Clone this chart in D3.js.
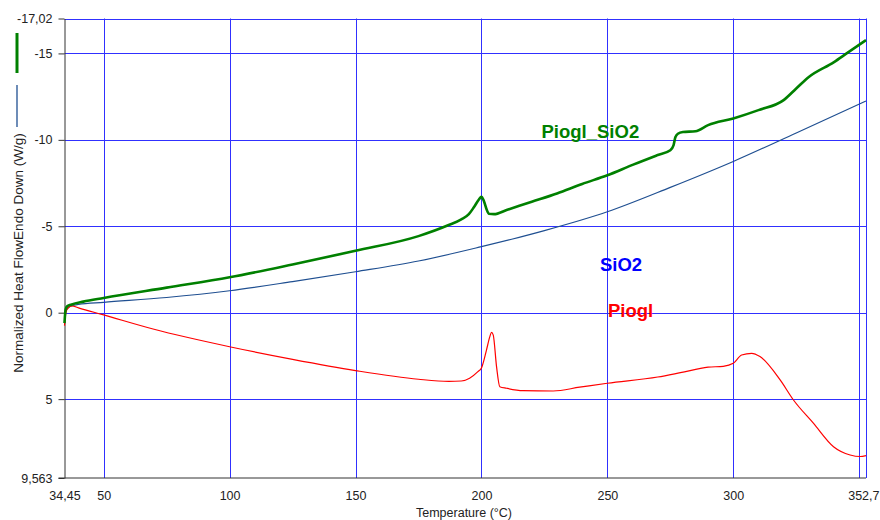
<!DOCTYPE html>
<html>
<head>
<meta charset="utf-8">
<script src="https://cdn.jsdelivr.net/npm/d3@7"></script>
<style>
  html, body { margin: 0; padding: 0; background: #fff; }
  svg { display: block; font-family: Arial, "Liberation Sans", sans-serif; }
</style>
</head>
<body>
<svg id="chart" width="880" height="520"></svg>
<script>
// DSC curves: temperature (°C) vs normalized heat flow (W/g), endo down
const tempPioglSiO2 = [34.45, 34.9, 35.6, 37.3, 41.9, 50, 75, 100, 125, 150, 175, 187, 192, 195, 197, 199, 200, 201, 202, 203, 205, 210, 220, 230, 240, 250, 260, 270, 275, 276.3, 277, 278, 280, 285, 290, 300, 310, 320, 325, 330, 340, 345, 352.7];
const heatPioglSiO2 = [0.6, -0.2, -0.38, -0.48, -0.64, -0.85, -1.45, -2.05, -2.79, -3.58, -4.43, -5.07, -5.4, -5.7, -6.1, -6.55, -6.71, -6.45, -6.0, -5.72, -5.7, -5.94, -6.42, -6.9, -7.45, -7.95, -8.55, -9.12, -9.4, -9.7, -10.15, -10.35, -10.45, -10.5, -10.85, -11.24, -11.72, -12.3, -12.97, -13.64, -14.5, -15.0, -15.77];

const tempSiO2 = [34.45, 35, 36.5, 40, 50, 75, 100, 125, 150, 175, 200, 212, 225, 250, 275, 300, 325, 352.7];
const heatSiO2 = [0.45, -0.1, -0.35, -0.48, -0.6, -0.88, -1.27, -1.8, -2.37, -2.99, -3.82, -4.25, -4.75, -5.84, -7.25, -8.75, -10.4, -12.25];

const tempPiogl = [34.45, 34.8, 35.5, 37.3, 40, 50, 70, 100, 125, 150, 175, 187, 192, 195.3, 198.6, 200, 202, 203.3, 204, 204.7, 206, 207.3, 210, 216.5, 228.5, 239, 250, 270, 279, 290, 296, 300, 303.3, 307.3, 310.6, 318.6, 323.9, 331.8, 339.8, 346.4, 350.4, 352.7];
const heatPiogl = [0.75, 0.2, -0.2, -0.4, -0.28, 0.13, 0.96, 1.97, 2.7, 3.35, 3.85, 3.97, 3.95, 3.79, 3.41, 3.2, 2.16, 1.4, 1.13, 1.3, 3.12, 4.28, 4.37, 4.51, 4.53, 4.31, 4.08, 3.72, 3.47, 3.15, 3.1, 2.93, 2.45, 2.35, 2.54, 3.89, 5.05, 6.39, 7.75, 8.23, 8.32, 8.27];

const xTicks = [34.45, 50, 100, 150, 200, 250, 300, 352.7];
const xGrid = [50, 100, 150, 200, 250, 300, 350, 352.7];
const yTicks = [-17.02, -15, -10, -5, 0, 5, 9.563];
const yGrid = [-17.02, -15, -10, -5, 0, 5];

const seriesNames = ["Piogl_SiO2", "SiO2", "Piogl"];
const seriesColors = ["#008000", "#1f4f91", "#ff0000"];

const svg = d3.select("#chart");
const plotLeft = 64.5, plotRight = 866, plotTop = 18.5, plotBottom = 478;

const x = d3.scaleLinear().domain([34.45, 352.7]).range([plotLeft, plotRight]);
const y = d3.scaleLinear().domain([-17.02, 9.563]).range([plotTop, plotBottom]);

const fmt = v => String(v).replace(".", ",");

// grid
const grid = svg.append("g").attr("stroke", "#3030ff").attr("stroke-width", 1);
grid.selectAll("line.v").data(xGrid).join("line").attr("class", "v")
  .attr("x1", d => Math.round(x(d)) + 0.5).attr("x2", d => Math.round(x(d)) + 0.5)
  .attr("y1", plotTop).attr("y2", plotBottom);
grid.selectAll("line.h").data(yGrid).join("line").attr("class", "h")
  .attr("y1", d => Math.round(y(d)) + 0.5).attr("y2", d => Math.round(y(d)) + 0.5)
  .attr("x1", plotLeft).attr("x2", plotRight);

// axes
const yAxis = svg.append("g").attr("transform", `translate(${plotLeft},0)`)
  .call(d3.axisLeft(y).tickValues(yTicks).tickFormat(fmt).tickSize(6).tickPadding(6).tickSizeOuter(0));
const xAxis = svg.append("g").attr("transform", `translate(0,${plotBottom})`)
  .call(d3.axisBottom(x).tickValues(xTicks).tickFormat(fmt).tickSize(0).tickPadding(13).tickSizeOuter(0));
[yAxis, xAxis].forEach(a => {
  a.select(".domain").attr("stroke", "#333");
  a.selectAll(".tick line").attr("stroke", "#333");
  a.selectAll("text").attr("fill", "#222").style("font-size", "12.5px")
    .style("font-family", "Arial, 'Liberation Sans', sans-serif");
});
xAxis.select(".domain").attr("d", `M${plotLeft - 6},0H${plotRight}`);
// last temperature label sits against the right edge
xAxis.selectAll(".tick text").filter(d => d === 352.7)
  .attr("text-anchor", "end").attr("x", 879 - x(352.7));

// axis titles
svg.append("text").attr("x", 464).attr("y", 516.5).attr("text-anchor", "middle")
  .attr("fill", "#222").style("font-size", "12.5px").text("Temperature (°C)");
svg.append("text").attr("transform", "translate(22.5,253) rotate(-90)")
  .attr("text-anchor", "middle").attr("fill", "#222").style("font-size", "13.5px")
  .text("Normalized Heat FlowEndo Down (W/g)");

// series key strokes beside the y title
svg.append("line").attr("x1", 17).attr("x2", 17).attr("y1", 33).attr("y2", 73)
  .attr("stroke", seriesColors[0]).attr("stroke-width", 3);
svg.append("line").attr("x1", 17).attr("x2", 17).attr("y1", 85).attr("y2", 127)
  .attr("stroke", seriesColors[1]).attr("stroke-width", 1.3);

// curves
const line = d3.line().x(d => x(d[0])).y(d => y(d[1])).curve(d3.curveMonotoneX);
const series = [
  { t: tempSiO2, h: heatSiO2, color: seriesColors[1], w: 1.2 },
  { t: tempPiogl, h: heatPiogl, color: seriesColors[2], w: 1.2 },
  { t: tempPioglSiO2, h: heatPioglSiO2, color: seriesColors[0], w: 2.6 }
];
series.forEach(s => {
  svg.append("path").datum(d3.zip(s.t, s.h))
    .attr("fill", "none").attr("stroke", s.color).attr("stroke-width", s.w)
    .attr("stroke-linejoin", "round").attr("d", line);
});

// series labels
const labelPos = [[541.5, 137.7], [600, 271], [608, 316.7]];
seriesNames.forEach((name, i) => {
  svg.append("text").attr("x", labelPos[i][0]).attr("y", labelPos[i][1])
    .attr("fill", i === 1 ? "#0000ff" : seriesColors[i])
    .style("font-size", "18.5px").style("font-weight", "bold").text(name);
});
</script>
</body>
</html>
